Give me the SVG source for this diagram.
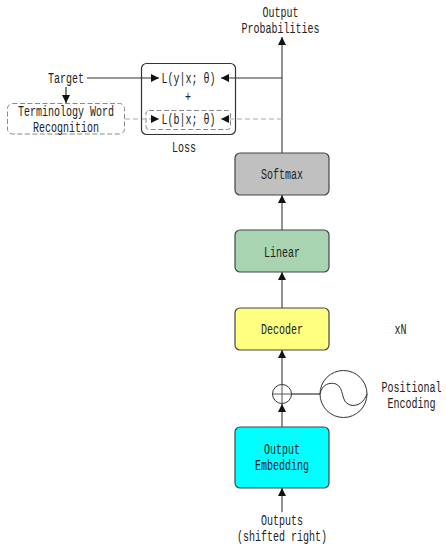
<svg xmlns="http://www.w3.org/2000/svg" width="446" height="550" viewBox="0 0 446 550">
<style>
text{font-family:"Liberation Mono",monospace;font-size:15px;fill:#222;text-anchor:middle}
.box{stroke:#444;stroke-width:1.2}
.g{fill:none;stroke:#777;stroke-width:1.6}
.k{fill:none;stroke:#333;stroke-width:1.2}
.d{fill:none;stroke:#aaa;stroke-width:1.2;stroke-dasharray:5 3}
.db{fill:#fff;stroke:#888;stroke-width:1;stroke-dasharray:5 2.5}
</style>
<defs>
<marker id="a" viewBox="0 0 10 10" refX="10" refY="5" markerWidth="8" markerHeight="8" markerUnits="userSpaceOnUse" orient="auto"><path d="M0 0L10 5L0 10Z" fill="#111"/></marker>
</defs>
<g id="connectors">
<path class="g" d="M282 153V37" marker-end="url(#a)"/>
<path class="g" d="M282 230V195" marker-end="url(#a)"/>
<path class="g" d="M282 308V272" marker-end="url(#a)"/>
<path class="g" d="M282 384V350" marker-end="url(#a)"/>
<path class="g" d="M282 427V404" marker-end="url(#a)"/>
<path class="g" d="M282 512V488" marker-end="url(#a)"/>
<path class="k" d="M87 78H159" marker-end="url(#a)"/>
<path class="k" d="M282 78H221" marker-end="url(#a)"/>
<path class="k" d="M66 87V103" marker-end="url(#a)"/>
<path class="d" d="M125 119H159" marker-end="url(#a)"/>
<path class="d" d="M282 119H221" marker-end="url(#a)"/>
<path class="k" d="M292 394H320"/>
</g>
<g id="target"><text transform="translate(66 83) scale(.667 1)">Target</text></g>
<g id="terminology"><rect class="db" x="7.500" y="103.500" width="117" height="30.500" rx="5"/>
<text transform="translate(66 116) scale(.667 1)">Terminology Word</text>
<text transform="translate(66 132) scale(.667 1)">Recognition</text></g>
<g id="loss"><rect x="141.500" y="63.500" width="94" height="71" rx="5" fill="none" stroke="#333" stroke-width="1.200"/>
<rect class="db" x="146" y="110.500" width="84.500" height="19" rx="3" style="fill:none"/>
<text transform="translate(188.500 83) scale(.667 1)">L(y|x; θ)</text>
<text transform="translate(188 101) scale(.667 1)">+</text>
<text transform="translate(188.500 124) scale(.667 1)">L(b|x; θ)</text>
<text transform="translate(184 152) scale(.667 1)">Loss</text></g>
<g id="softmax"><rect class="box" x="235" y="153" width="94" height="42" rx="5" fill="#c0c0c0"/><text transform="translate(282 179) scale(.667 1)">Softmax</text></g>
<g id="linear"><rect class="box" x="235" y="230" width="94" height="42" rx="5" fill="#a9d4b2"/><text transform="translate(282 257) scale(.667 1)">Linear</text></g>
<g id="decoder"><rect class="box" x="235" y="308" width="94" height="42" rx="5" fill="#ffff80"/><text transform="translate(282 334) scale(.667 1)">Decoder</text></g>
<g id="embedding"><rect class="box" x="235" y="427" width="94" height="61" rx="5" fill="#00ffff"/><text transform="translate(282 454) scale(.667 1)">Output</text><text transform="translate(282 470) scale(.667 1)">Embedding</text></g>
<g id="add"><circle cx="282" cy="394" r="9.500" fill="#fff" stroke="#333" stroke-width="1"/><path d="M272.500 394H291.500M282 384.500V403.500" stroke="#555" stroke-width="1"/></g>
<g id="sine"><circle cx="343.500" cy="394" r="23.500" fill="#fff" stroke="#333" stroke-width="1"/><path d="M320 394C322 384 330 382 336 384C345 388 340 402 350 405C358 407 364 402 367 394" fill="none" stroke="#333" stroke-width="1"/></g>
<text id="xn" transform="translate(400.500 334) scale(.667 1)">xN</text>
<g id="positional"><text transform="translate(411.500 392) scale(.667 1)">Positional</text><text transform="translate(411.500 408) scale(.667 1)">Encoding</text></g>
<g id="outputs"><text transform="translate(282 525) scale(.667 1)">Outputs</text><text transform="translate(282 541) scale(.667 1)">(shifted right)</text></g>
<g id="probs"><text transform="translate(280.500 17) scale(.667 1)">Output</text><text transform="translate(280.500 33) scale(.667 1)">Probabilities</text></g>
</svg>
